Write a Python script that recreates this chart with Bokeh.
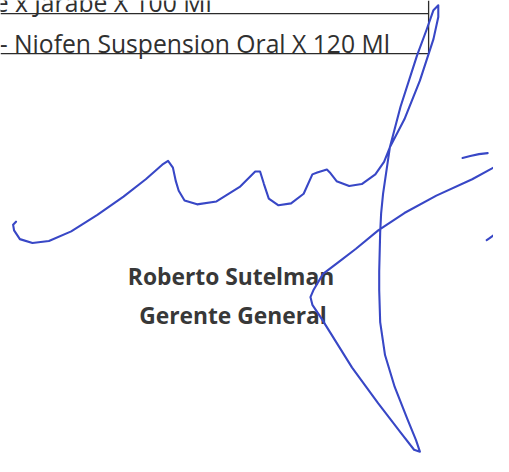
from bokeh.plotting import figure
from bokeh.models import Range1d
from bokeh.embed import file_html
from bokeh.resources import INLINE
from bokeh.core.properties import value

# ---- document content ----
row_labels = ["Sinusoide Forte x Jarabe X 100 Ml", "- Niofen Suspension Oral X 120 Ml"]
row_right_x = [218, 402]
row_baselines = [2.5, 45]
table_rule_y = [13.5, 55]
table_right_x = 442
signer_lines = ["Roberto Sutelman", "Gerente General"]
signer_baselines = [286, 326]
signer_centers = [238, 240]

# ---- signature strokes (page pixel coordinates) ----
sig_main_x = [16, 13, 14, 20, 33, 50, 73, 100, 127, 150, 167, 173, 178, 181, 184, 190, 203, 223,
              247, 263, 268, 272, 277, 287, 300, 313, 322, 327, 337, 340, 347, 360, 373, 387, 396,
              402, 417, 433, 447, 452, 452, 447, 440, 430, 413, 402, 395, 393, 392, 391, 391, 392,
              397, 407, 420, 429, 433, 427, 413, 390, 363, 340, 330, 322, 320, 323, 333, 350, 367,
              390, 417, 450, 487, 509]
sig_main_y = [229, 232, 238, 247, 251, 249, 239, 222, 203, 185, 170, 166, 173, 187, 197, 207, 211, 208,
              193, 177, 177, 190, 205, 212, 210, 200, 180, 178, 175, 178, 187, 192, 190, 180, 167,
              152, 123, 83, 40, 17, 5, 10, 30, 57, 110, 152, 200, 220, 240, 280, 300, 333,
              367, 400, 433, 455, 467, 465, 447, 417, 380, 343, 327, 315, 307, 300, 283, 270, 257,
              238, 220, 202, 185, 173]
sig_dash_x = [477, 485, 494, 503]
sig_dash_y = [163, 161, 159, 158]
sig_tick_x = [502, 505, 509]
sig_tick_y = [248, 246, 243]

REF_W, REF_H = 509, 472
W, H = 493, 456
s = W / REF_W

p = figure(width=W, height=H, output_backend="svg", toolbar_location=None,
           x_range=Range1d(0, REF_W), y_range=Range1d(REF_H, 0),
           min_border=0, background_fill_color="white", border_fill_color="white")
p.axis.visible = False
p.grid.visible = False
p.outline_line_color = None

ink = "#2b2b2b"
for yy in table_rule_y:
    p.line([0, table_right_x], [yy, yy], line_color=ink, line_width=1.3)
p.line([table_right_x, table_right_x], [0, table_rule_y[-1]], line_color=ink, line_width=1.3)

p.text(x=row_right_x, y=row_baselines, text=row_labels, text_align="right",
       text_baseline="alphabetic", text_font=value("Open Sans"),
       text_font_size=f"{25.5 * s:.1f}px", text_color="#303030")

p.text(x=signer_centers, y=signer_baselines, text=signer_lines, text_align="center",
       text_baseline="alphabetic", text_font=value("Open Sans"),
       text_font_size=f"{23.5 * s:.1f}px", text_font_style="bold", text_color="#383838")

sig = "#3847c6"
p.line(sig_main_x, sig_main_y, line_color=sig, line_width=2.1, line_join="round", line_cap="round")
p.line(sig_dash_x, sig_dash_y, line_color=sig, line_width=2.1, line_cap="round")
p.line(sig_tick_x, sig_tick_y, line_color=sig, line_width=2.1, line_cap="round")

open("out.html", "w").write(file_html(p, INLINE))
